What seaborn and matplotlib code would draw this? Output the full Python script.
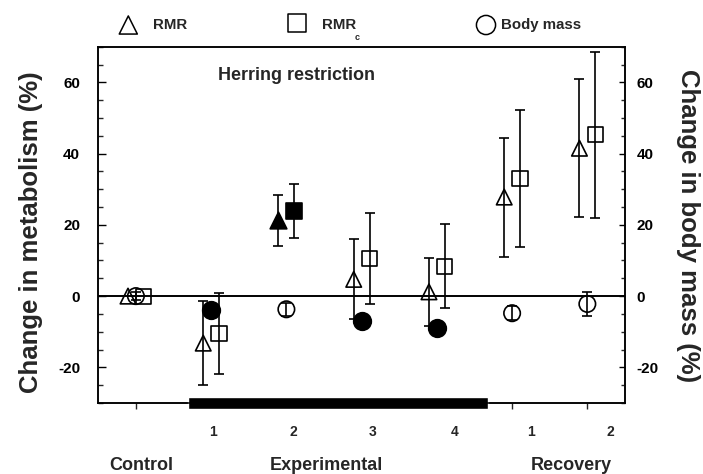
import numpy as np
import pandas as pd
import matplotlib
matplotlib.use("Agg")
import matplotlib.pyplot as plt
from matplotlib.ticker import MultipleLocator
import seaborn as sns

# Sampling points: control, experimental weeks 1-4, recovery weeks 1-2
phase_x = [0, 1, 2, 3, 4, 5, 6]
tick_labels = ["", "1", "2", "3", "4", "1", "2"]
group_names = ["Control", "Experimental", "Recovery"]

# Change in metabolism (%), mean and SE
rmr = [0.0, -13.2, 21.3, 4.7, 1.2, 27.8, 41.5]
rmr_se = [0.0, 11.7, 7.2, 11.2, 9.6, 16.7, 19.4]
rmr_filled = [False, False, True, False, False, False, False]

rmrc = [0.0, -10.4, 23.8, 10.5, 8.4, 32.9, 45.3]
rmrc_se = [0.0, 11.4, 7.6, 12.8, 11.7, 19.2, 23.3]
rmrc_filled = [False, False, True, False, False, False, False]

# Change in body mass (%), right axis
mass = [0.0, -3.9, -3.7, -7.1, -8.9, -4.8, -2.2]
mass_se = [1.2, 1.5, 1.9, 1.5, 1.5, 2.0, 3.3]
mass_filled = [False, True, False, True, True, False, False]

# herring restriction period along the x axis
restriction = (0.69, 4.68)

df = pd.DataFrame({"x": phase_x, "rmr": rmr, "rmr_se": rmr_se, "rmr_f": rmr_filled,
                   "rmrc": rmrc, "rmrc_se": rmrc_se, "rmrc_f": rmrc_filled,
                   "mass": mass, "mass_se": mass_se, "mass_f": mass_filled})

sns.set_theme(style="ticks")
plt.rcParams["font.family"] = ["Liberation Sans", "DejaVu Sans"]
plt.rcParams["font.weight"] = "bold"
plt.rcParams["axes.unicode_minus"] = False

fig = plt.figure(figsize=(7.03, 4.74), dpi=100)
ax = fig.add_axes([0.1398, 0.1498, 0.7492, 0.7517])
ax2 = ax.twinx()

ax.axhline(0, color="black", lw=1.4, zorder=1)


def draw_series(axis, col, marker, size, offset):
    x = df["x"] + offset
    has_err = df[col + "_se"] > 0
    axis.errorbar(x[has_err], df[col][has_err], yerr=df[col + "_se"][has_err], fmt="none",
                  ecolor="black", elinewidth=1.2, capsize=3.6, capthick=1.2, zorder=2)
    for filled, sub in df.assign(x=x).groupby(col + "_f"):
        sns.scatterplot(data=sub, x="x", y=col, marker=marker,
                        s=size * 1.15 if filled else size, ax=axis,
                        facecolor="black" if filled else "none", edgecolor="black",
                        linewidth=1.2, zorder=3, legend=False)


draw_series(ax, "rmr", "^", 125, -0.105)
draw_series(ax, "rmrc", "s", 118, 0.105)
draw_series(ax2, "mass", "o", 140, 0.0)

for a in (ax, ax2):
    a.set_ylim(-30, 70)
    a.set_xlim(-0.5, 6.5)
    a.set_yticks([-20, 0, 20, 40, 60])
    a.yaxis.set_minor_locator(MultipleLocator(5))
    a.set_xlabel("")
    a.set_ylabel("")
    for s in a.spines.values():
        s.set_visible(True)
        s.set_linewidth(1.1)
        s.set_color("black")

ax.tick_params(axis="y", which="major", direction="in", length=6, width=1, pad=13,
               labelsize=11, colors="black")
ax.tick_params(axis="y", which="minor", direction="in", length=3.5, width=1)
ax2.tick_params(axis="y", which="major", direction="in", length=4.5, width=1, pad=8.5,
                labelsize=11, colors="black")
ax2.tick_params(axis="y", which="minor", direction="in", length=3, width=1)
for lab in ax.get_yticklabels() + ax2.get_yticklabels():
    lab.set_fontweight("bold")

ax.set_xticks(phase_x)
ax.set_xticklabels([])
ax.tick_params(axis="x", direction="out", length=4.5, width=1)

# tick numbers sit a little right of their ticks in the original
label_x = [1.02, 2.09, 3.15, 4.23, 5.25, 6.31]
for lx, t in zip(label_x, [t for t in tick_labels if t]):
    ax.text(lx, -0.081, t, transform=ax.get_xaxis_transform(), ha="center", va="center",
            fontsize=10, fontweight="bold")

# black bar marking the restriction period
ax.broken_barh([(restriction[0], restriction[1] - restriction[0])], (-31.6, 3.3),
               facecolors="black", clip_on=False, zorder=4)

for name, gx in zip(group_names, [141, 326, 571]):
    fig.text(gx / 703, 1 - 465 / 474, name, ha="center", va="center", fontsize=13,
             fontweight="bold")

fig.text(0.044, 0.511, "Change in metabolism (%)", rotation=90, ha="center", va="center",
         fontsize=18.5, fontweight="bold")
fig.text(0.979, 0.525, "Change in body mass (%)", rotation=270, ha="center", va="center",
         fontsize=18.5, fontweight="bold")
fig.text(218 / 703, 1 - 75 / 474, "Herring restriction", ha="left", va="center",
         fontsize=13, fontweight="bold")

# legend row above the frame
ly = 1 - 25 / 474
ax.scatter([128.3 / 703], [ly], marker="^", s=170, facecolor="none", edgecolor="black",
           linewidth=1.1, transform=fig.transFigure, clip_on=False)
fig.text(153 / 703, ly, "RMR", ha="left", va="center", fontsize=10.8, fontweight="bold")
ax.scatter([297 / 703], [1 - 23 / 474], marker="s", s=150, facecolor="none",
           edgecolor="black", linewidth=1.1, transform=fig.transFigure, clip_on=False)
fig.text(322 / 703, ly, "RMR", ha="left", va="center", fontsize=10.8, fontweight="bold")
fig.text(355 / 703, 1 - 38 / 474, "c", ha="left", va="center", fontsize=6.5,
         fontweight="bold")
ax.scatter([486 / 703], [ly], marker="o", s=190, facecolor="none", edgecolor="black",
           linewidth=1.1, transform=fig.transFigure, clip_on=False)
fig.text(501 / 703, ly, "Body mass", ha="left", va="center", fontsize=10.8,
         fontweight="bold")

fig.savefig("out.png", dpi=100, facecolor="white")
